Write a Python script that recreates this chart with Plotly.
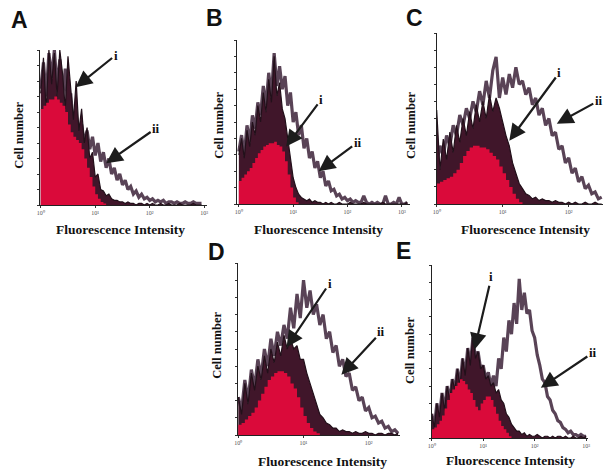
import numpy as np
import plotly.graph_objects as go

# ---------------- data (cell counts, % of axis height, per log channel of 0.05 decade) -------------
STEP = 0.05  # decade width of one channel bin

A_red = [62, 64, 66, 68, 68, 70, 68, 66, 64, 60, 52, 47, 44, 42, 40, 36, 30, 24, 18, 12, 7, 4, 2, 1, 0]
A_i = [72, 95, 60, 100, 78, 98, 70, 100, 85, 62, 96, 74, 55, 80, 48, 62, 40, 50, 30, 34, 18, 20, 10, 9, 6,
       7, 4, 3, 3, 2, 2, 1, 2, 1, 1, 0, 1, 1, 0, 1, 0, 1, 0, 0, 1, 0, 0, 1, 0, 0, 0, 1, 0, 0, 0, 0, 1, 0, 0, 0]
A_ii = [75, 92, 70, 98, 82, 100, 76, 94, 68, 88, 60, 72, 50, 58, 44, 52, 40, 48, 36, 44, 32, 40, 28, 34, 24,
        30, 20, 24, 16, 20, 13, 16, 10, 12, 7, 9, 5, 7, 4, 5, 3, 4, 2, 3, 2, 3, 1, 2, 2, 1, 2, 1, 1, 2, 1, 1, 2, 1, 1, 1]

B_red = [14, 16, 18, 20, 22, 25, 28, 31, 33, 35, 36, 37, 37, 38, 36, 35, 32, 26, 18, 10, 4, 1, 0]
B_i = [30, 40, 28, 45, 35, 50, 42, 60, 50, 68, 56, 76, 62, 90, 66, 74, 58, 52, 40, 28, 16, 10, 6, 4, 3, 2, 3,
       1, 2, 1, 1, 0, 1, 0, 1, 0, 0, 1, 0, 0, 0, 1, 0, 0, 0, 0, 1, 0, 0, 0, 0, 0, 0, 1, 0, 0, 0, 0, 0, 0, 0, 0, 1]
B_ii = [32, 42, 30, 48, 38, 54, 46, 62, 54, 72, 60, 80, 66, 92, 72, 84, 70, 78, 60, 68, 50, 56, 42, 48, 34, 40,
        28, 32, 22, 26, 16, 20, 11, 14, 8, 9, 5, 6, 3, 4, 2, 3, 1, 2, 1, 1, 5, 1, 0, 1, 0, 1, 0, 0, 5, 0, 0, 1, 0, 4, 0, 0, 1]

C_red = [12, 13, 14, 15, 16, 18, 20, 24, 28, 31, 33, 34, 34, 33, 33, 32, 30, 28, 26, 22, 18, 14, 10, 6, 3, 1, 0]
C_i = [55, 20, 38, 26, 42, 30, 46, 36, 50, 40, 54, 44, 58, 48, 60, 50, 64, 54, 62, 56, 48, 40, 34, 24, 18, 12,
       9, 6, 5, 3, 4, 2, 3, 2, 2, 1, 2, 1, 1, 0, 1, 0, 1, 0, 0, 1, 0, 0, 1, 0, 0]
C_ii = [24, 34, 28, 40, 34, 46, 40, 52, 46, 56, 50, 60, 54, 66, 58, 72, 62, 78, 86, 62, 74, 64, 76, 68, 80, 70,
        72, 64, 68, 58, 62, 52, 56, 46, 50, 40, 42, 32, 34, 24, 27, 18, 21, 13, 16, 9, 11, 6, 7, 3, 4]

D_red = [6, 7, 9, 11, 13, 16, 20, 24, 28, 32, 34, 36, 37, 37, 36, 34, 30, 27, 22, 16, 11, 7, 4, 2, 1, 0]
D_i = [22, 12, 30, 18, 36, 26, 40, 32, 46, 36, 50, 42, 54, 46, 58, 50, 56, 50, 52, 44, 44, 36, 30, 24, 18, 12,
       10, 7, 6, 4, 4, 2, 3, 2, 2, 1, 2, 1, 1, 2, 1, 1, 0, 1, 1, 0, 1, 1, 0, 1]
D_ii = [22, 14, 32, 20, 38, 28, 44, 34, 50, 40, 56, 46, 60, 52, 64, 56, 74, 62, 82, 68, 90, 74, 84, 70, 76, 64,
        70, 56, 60, 48, 52, 40, 44, 34, 36, 26, 28, 20, 22, 14, 16, 10, 11, 7, 8, 4, 5, 2, 3, 1]

E_red = [5, 6, 8, 10, 13, 17, 22, 26, 28, 30, 32, 34, 33, 31, 28, 26, 22, 18, 16, 20, 22, 24, 24, 22, 18, 14,
         10, 7, 5, 3, 1, 0]
E_i = [14, 6, 20, 12, 26, 16, 30, 22, 34, 28, 40, 30, 46, 36, 52, 42, 60, 46, 50, 40, 42, 34, 36, 30, 32, 26,
       28, 22, 20, 14, 12, 8, 6, 4, 4, 2, 3, 1, 2, 1, 1, 2, 1, 0, 1, 1, 0, 1, 0, 1, 1, 0, 1, 0, 0, 1, 0, 0, 1, 0, 1]
E_ii = [14, 6, 20, 12, 26, 16, 30, 22, 34, 28, 40, 30, 46, 36, 52, 42, 58, 46, 50, 40, 42, 34, 38, 30,
        36, 30, 46, 40, 58, 50, 68, 60, 78, 66, 92, 74, 84, 72, 74, 62, 58, 48, 42, 34, 32, 24, 22, 16, 14, 10,
        9, 6, 5, 3, 4, 2, 2, 1, 2, 1, 1]

TICK_VALS = [1, 10, 100, 1000]
TICK_TEXT = ["10⁰", "10¹", "10²", "10³"]
PANEL_LETTERS = ["A", "B", "C", "D", "E"]
Y_TITLE = "Cell number"
X_TITLE = "Fluorescence Intensity"

# ---------------- layout geometry (pixels in the 607x470 page) ----------------
W, H = 607, 470
panels = [
    dict(red=A_red, i=A_i, ii=A_ii, xpx=(36, 205), ypx=(50, 205), xr=(-0.02, 3.05),
         arr=[(0.64, 76, 40, -32), (1.20, 27, 50, -35)], let=(16, 20), ylab=(15, 135), xlab=(118, 229)),
    dict(red=B_red, i=B_i, ii=B_ii, xpx=(235, 410), ypx=(40, 204), xr=(-0.04, 3.15),
         arr=[(0.87, 35, 35, -47), (1.47, 20, 39, -29)], let=(213, 18), ylab=(217, 125), xlab=(318, 229)),
    dict(red=C_red, i=C_i, ii=C_ii, xpx=(437, 605), ypx=(33, 204), xr=(0.0, 2.52),
         arr=[(1.10, 37, 50, -68), (1.82, 47, 42, -23)], let=(415, 18), ylab=(411, 125), xlab=(527, 230)),
    dict(red=D_red, i=D_i, ii=D_ii, xpx=(236, 400), ypx=(263, 435), xr=(-0.01, 2.48),
         arr=[(0.74, 51, 43, -64), (1.58, 35, 40, -43)], let=(215, 252), ylab=(215, 345), xlab=(322, 461)),
    dict(red=E_red, i=E_i, ii=E_ii, xpx=(432, 590), ypx=(265, 438), xr=(0.0, 3.04),
         arr=[(0.83, 51, 17, -73), (2.12, 29, 52, -35)], let=(403, 251), ylab=(410, 350), xlab=(512, 460)),
]

RED = "rgb(218,10,58)"
DARK_FILL = "rgb(64,22,42)"
LINE_I = "rgb(34,16,26)"
LINE_II = "rgba(60,34,56,0.85)"

fig = go.Figure()
annotations = []

def chan_x(vals):
    return [10 ** (k * STEP) for k in range(len(vals))]

for n, p in enumerate(panels):
    k = "" if n == 0 else str(n + 1)
    xa, ya = "x" + k, "y" + k
    fig.add_trace(go.Scatter(x=chan_x(p["ii"]), y=p["ii"], mode="lines", line_shape="linear",
                             line=dict(color=LINE_II, width=3.2), xaxis=xa, yaxis=ya, hoverinfo="skip"))
    fig.add_trace(go.Scatter(x=chan_x(p["i"]), y=p["i"], mode="lines", line_shape="linear",
                             fill="tozeroy", fillcolor=DARK_FILL,
                             line=dict(color=LINE_I, width=1.2), xaxis=xa, yaxis=ya, hoverinfo="skip"))
    fig.add_trace(go.Scatter(x=chan_x(p["red"]), y=p["red"], mode="lines", line_shape="hv",
                             fill="tozeroy", fillcolor=RED,
                             line=dict(color=RED, width=0), xaxis=xa, yaxis=ya, hoverinfo="skip"))

    x0, x1 = p["xpx"]
    y0, y1 = p["ypx"]
    fig.layout["xaxis" + k] = dict(
        domain=[x0 / W, x1 / W], anchor=ya, type="log", range=list(p["xr"]),
        tickvals=TICK_VALS, ticktext=TICK_TEXT, tickfont=dict(size=6, color="#555", family="Liberation Serif"),
        ticks="outside", ticklen=2, tickcolor="#333", showline=True, linecolor="#222", linewidth=1,
        showgrid=False, zeroline=False, fixedrange=True)
    fig.layout["yaxis" + k] = dict(
        domain=[1 - y1 / H, 1 - y0 / H], anchor=xa, range=[0, 100], dtick=10,
        showticklabels=False, ticks="outside", ticklen=2, tickcolor="#333",
        showline=True, linecolor="#222", linewidth=1, showgrid=False, zeroline=False, fixedrange=True)

    for (hx, hy, dx, dy), lab in zip(p["arr"], ["i", "ii"]):
        annotations.append(dict(x=hx, y=hy, xref=xa, yref=ya, ax=dx, ay=dy, text="<b>%s</b>" % lab,
                                showarrow=True, arrowhead=2, arrowsize=1.5, arrowwidth=2.2,
                                arrowcolor="#1c1c1c", font=dict(family="Liberation Serif", size=13, color="#111")))
    lx, ly = p["let"]
    annotations.append(dict(x=lx / W, y=1 - ly / H, xref="paper", yref="paper", text="<b>%s</b>" % PANEL_LETTERS[n],
                            xanchor="center", yanchor="middle",
                            showarrow=False, font=dict(family="Liberation Sans", size=23, color="#111")))
    cx, cy = p["ylab"]
    annotations.append(dict(x=cx / W, y=1 - cy / H, xref="paper", yref="paper", text="<b>%s</b>" % Y_TITLE,
                            xanchor="center", yanchor="middle",
                            textangle=-90, showarrow=False, font=dict(family="Liberation Serif", size=12.5, color="#111")))
    fx, fy = p["xlab"]
    annotations.append(dict(x=fx / W, y=1 - fy / H, xref="paper", yref="paper", text="<b>%s</b>" % X_TITLE,
                            xanchor="center", yanchor="middle",
                            showarrow=False, font=dict(family="Liberation Serif", size=13.5, color="#111")))

fig.update_layout(width=W, height=H, margin=dict(l=0, r=0, t=0, b=0), showlegend=False,
                  paper_bgcolor="white", plot_bgcolor="white", annotations=annotations)

fig.write_html("out.html", config={"displayModeBar": False},
               post_script="document.body.style.margin='0';document.body.style.padding='0';")
